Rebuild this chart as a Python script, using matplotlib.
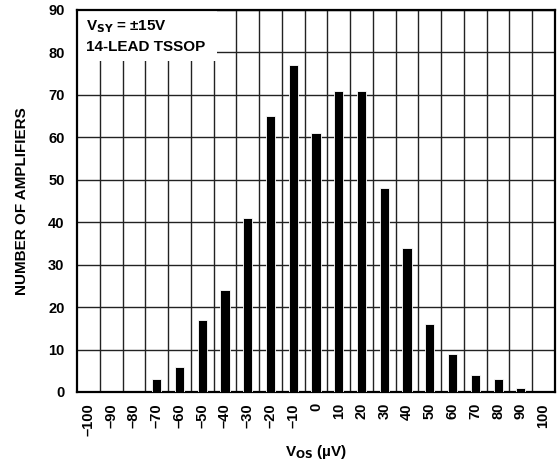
import numpy as np
import matplotlib
matplotlib.use('Agg')
import matplotlib.pyplot as plt
from matplotlib.patches import Rectangle

plt.rcParams['font.family'] = ['Liberation Sans', 'DejaVu Sans']
plt.rcParams['font.weight'] = 'bold'
plt.rcParams['mathtext.default'] = 'bf'

# offset voltage bins (µV) and counts
vos = [-70, -60, -50, -40, -30, -20, -10, 0, 10, 20, 30, 40, 50, 60, 70, 80, 90]
counts = [3, 6, 17, 24, 41, 65, 77, 61, 71, 71, 48, 34, 16, 9, 4, 3, 1]
tick_vals = list(range(-100, 101, 10))
tick_labels = [('–' + str(-v)) if v < 0 else str(v) for v in tick_vals]

fig = plt.figure(figsize=(5.58, 4.65), dpi=100)
ax = fig.add_axes([0.138, 0.157, 0.8566, 0.8215])

ax.bar(vos, counts, width=4.0, color='black', edgecolor='white', linewidth=0.6, zorder=3)

ax.set_xlim(-105, 105)
ax.set_ylim(0, 90)
ax.set_xticks(tick_vals)
ax.set_xticklabels(tick_labels, rotation=90, fontsize=10.5, fontweight='bold')
ax.set_xticks(np.arange(-95, 100, 10), minor=True)
ax.set_yticks(range(0, 91, 10))
ax.set_yticklabels([str(v) for v in range(0, 91, 10)], fontsize=10.5, fontweight='bold')
ax.tick_params(axis='both', which='both', length=0)
ax.tick_params(axis='x', pad=8)
ax.tick_params(axis='y', pad=9)

ax.grid(True, which='minor', axis='x', color='#222222', linewidth=1.0, zorder=1)
ax.grid(True, which='major', axis='y', color='#222222', linewidth=1.0, zorder=1)
ax.grid(False, which='major', axis='x')
ax.set_axisbelow(True)

for s in ax.spines.values():
    s.set_linewidth(1.6)

# white label box over the grid
ax.add_patch(Rectangle((-105, 78), 61.5, 12, facecolor='white', edgecolor='none', zorder=2))
ax.text(-101, 86.0, r'V$_{\mathbf{SY}}$ = ±15V', fontsize=11, fontweight='bold', va='center', zorder=4)
ax.text(-101, 81.3, '14-LEAD TSSOP', fontsize=11, fontweight='bold', va='center', zorder=4)

ax.set_ylabel('NUMBER OF AMPLIFIERS', fontsize=11, fontweight='bold', labelpad=14)
ax.set_xlabel(r'V$_{\mathbf{OS}}$ (µV)', fontsize=11, fontweight='bold', labelpad=5)

fig.savefig('out.png', dpi=100)
